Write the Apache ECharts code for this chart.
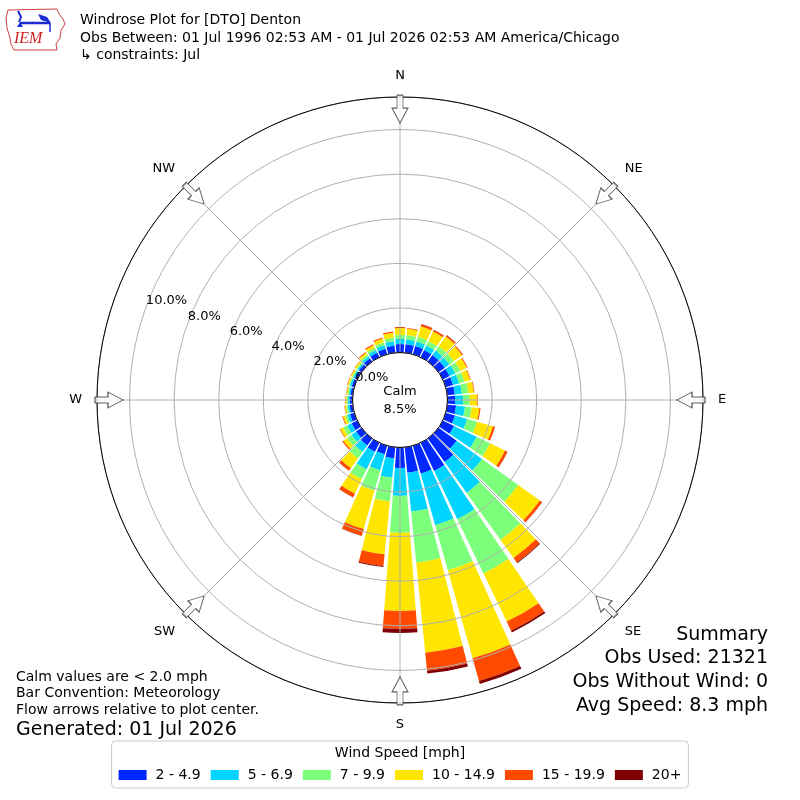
<!DOCTYPE html>
<html><head><meta charset="utf-8">
<script src="https://cdn.jsdelivr.net/npm/echarts@6/dist/echarts.min.js"></script>
<style>html,body{margin:0;padding:0;background:#fff}#c{width:800px;height:800px}</style>
</head><body><div id="c"></div>
<script>
// ---- data (percent of observations per direction and speed bin) ----
const directions = [0,10,20,30,40,50,60,70,80,90,100,110,120,130,140,150,160,170,180,190,200,210,220,230,240,250,260,270,280,290,300,310,320,330,340,350];
const speedBins = ['2 - 4.9','5 - 6.9','7 - 9.9','10 - 14.9','15 - 19.9','20+'];
const s2to5   = [0.38,0.38,0.38,0.36,0.36,0.35,0.34,0.34,0.34,0.34,0.40,0.43,0.56,1.00,1.30,1.40,1.30,1.15,0.92,0.50,0.40,0.45,0.38,0.30,0.28,0.20,0.14,0.12,0.10,0.12,0.12,0.14,0.18,0.22,0.26,0.32];
const s5to7   = [0.23,0.22,0.22,0.22,0.24,0.25,0.28,0.28,0.32,0.36,0.40,0.57,1.12,1.40,1.70,2.40,2.40,1.75,1.25,0.87,0.74,0.87,0.36,0.25,0.22,0.12,0.08,0.08,0.07,0.08,0.08,0.08,0.11,0.14,0.16,0.20];
const s7to10  = [0.18,0.20,0.22,0.22,0.24,0.25,0.26,0.26,0.29,0.30,0.30,0.46,0.67,2.00,2.60,2.70,2.10,2.30,1.66,1.07,0.95,0.50,0.36,0.25,0.20,0.10,0.08,0.07,0.06,0.06,0.06,0.07,0.09,0.11,0.13,0.15];
const s10to15 = [0.31,0.28,0.48,0.48,0.54,0.45,0.32,0.26,0.25,0.33,0.35,0.74,0.75,1.20,1.00,2.40,4.10,4.06,3.50,2.38,1.79,0.71,0.54,0.20,0.15,0.11,0.06,0.05,0.05,0.06,0.06,0.07,0.10,0.13,0.18,0.23];
const s15to20 = [0.04,0.04,0.10,0.08,0.07,0.06,0.04,0.03,0.03,0.03,0.05,0.10,0.12,0.12,0.24,0.45,1.06,0.81,0.81,0.54,0.31,0.18,0.13,0.06,0.03,0.03,0.02,0.02,0.02,0.02,0.02,0.02,0.04,0.05,0.05,0.06];
const s20plus = [0,0,0.01,0.01,0.01,0,0,0,0,0,0,0,0.01,0.01,0.04,0.09,0.14,0.13,0.18,0.04,0.02,0.01,0.01,0,0,0,0,0,0,0,0,0,0,0,0,0];
const binValues = [s2to5, s5to7, s7to10, s10to15, s15to20, s20plus];
const compassLabels = ['N','NE','E','SE','S','SW','W','NW'];
const compassAngles = [0,45,90,135,180,225,270,315];
const calmPct = 8.5;
const titleLines = ['Windrose Plot for [DTO] Denton','Obs Between: 01 Jul 1996 02:53 AM - 01 Jul 2026 02:53 AM America/Chicago','\u21b3 constraints: Jul'];
const summaryLines = ['Summary','Obs Used: 21321','Obs Without Wind: 0','Avg Speed: 8.3 mph'];
const noteLines = ['Calm values are < 2.0 mph','Bar Convention: Meteorology','Flow arrows relative to plot center.'];
const generatedText = 'Generated: 01 Jul 2026';

// ---- styles / layout ----
const binColors = ['#0028ff','#00d4ff','#7cff7a','#ffe600','#ff4a00','#7f0000'];
const FONT = 'DejaVu Sans';
const R_MAX = 11.46;
const RADIUS = [47.5, 303];
const CENTER = ['50%','50%'];
const ARROW_R = 10.92;
const ARROW = 'path://M5,0 L11,0 L11,13 L16,13 L8,28 L0,13 L5,13 Z';
const compassMap = {};
compassAngles.forEach((a,i)=>{compassMap[a]=compassLabels[i];});

const chart = echarts.init(document.getElementById('c'), null, {renderer:'canvas'});
const option = {
  animation:false,
  backgroundColor:'#fff',
  polar:[
    {center:CENTER, radius:RADIUS},
    {center:CENTER, radius:RADIUS},
    {center:CENTER, radius:RADIUS}
  ],
  angleAxis:[
    {polarIndex:0, type:'category', data:directions, startAngle:95, clockwise:true, show:false},
    {polarIndex:1, type:'value', min:0, max:360, interval:45, startAngle:90, clockwise:true, z:4,
      axisLine:{lineStyle:{color:'#000', width:1}}, axisTick:{show:false},
      axisLabel:{margin:15, align:'center', verticalAlign:'middle', color:'#000', fontSize:13, fontFamily:FONT,
        formatter:v=>(v<360 && compassMap[v]) ? compassMap[v] : ''},
      splitLine:{lineStyle:{color:'#b0b0b0', width:1}}},
    {polarIndex:2, type:'value', min:0, max:360, startAngle:160, clockwise:true, show:false}
  ],
  radiusAxis:[
    {polarIndex:0, type:'value', min:0, max:R_MAX, show:false},
    {polarIndex:1, type:'value', min:0, max:R_MAX, interval:2, z:3,
      axisLine:{show:false}, axisTick:{show:false}, axisLabel:{show:false},
      splitLine:{lineStyle:{color:'#b0b0b0', width:1}}},
    {polarIndex:2, type:'value', min:0, max:R_MAX, interval:2, z:5,
      axisLine:{show:false}, axisTick:{show:false}, splitLine:{show:false},
      axisLabel:{margin:0, align:'left', verticalAlign:'bottom', color:'#000', fontSize:13, fontFamily:FONT,
        formatter:v=> v>10.01 ? '' : v.toFixed(1)+'%'}}
  ],
  legend:{
    data:speedBins, left:'center', top:741, orient:'horizontal', icon:'rect',
    itemWidth:28, itemHeight:10, itemGap:10, selectedMode:false,
    padding:[27,7,6,7], borderColor:'#cccccc', borderWidth:1, borderRadius:4, backgroundColor:'#fff',
    textStyle:{fontSize:14, fontFamily:FONT, color:'#000', padding:[0,0,0,4]}
  },
  series: speedBins.map((name,i)=>({
    type:'bar', name, coordinateSystem:'polar', polarIndex:0, stack:'wind',
    data:binValues[i], itemStyle:{color:binColors[i]}, barCategoryGap:'14%', z:2, silent:true
  })).concat([{
    type:'scatter', coordinateSystem:'polar', polarIndex:1, silent:true, z:8,
    data: compassAngles.map(a=>[ARROW_R, a]),
    symbol:ARROW, symbolSize:[16,28], symbolRotate:v=>-v[1],
    itemStyle:{color:'#fff', borderColor:'#333', borderWidth:1}
  }]),
  graphic:[
    {type:'text', x:400, y:401, z:20, style:{text:'Calm\n'+calmPct.toFixed(1)+'%', align:'center', verticalAlign:'middle', font:'13px '+FONT, lineHeight:18, fill:'#000'}},
    {type:'text', x:80, y:12, style:{text:titleLines.join('\n'), font:'14px '+FONT, lineHeight:17.5, fill:'#000', verticalAlign:'top'}},
    {type:'text', x:768, y:623, style:{text:summaryLines.join('\n'), font:'19px '+FONT, lineHeight:23.7, align:'right', verticalAlign:'top', fill:'#000'}},
    {type:'text', x:16, y:669, style:{text:noteLines.join('\n'), font:'14px '+FONT, lineHeight:16.5, verticalAlign:'top', fill:'#000'}},
    {type:'text', x:16, y:730, style:{text:generatedText, font:'19px '+FONT, verticalAlign:'middle', fill:'#000'}},
    {type:'text', x:400, y:753, z:50, style:{text:'Wind Speed [mph]', font:'14px '+FONT, align:'center', verticalAlign:'middle', fill:'#000'}},
    // IEM logo (decoration)
    {type:'polygon', shape:{points:[[8,10],[57,9],[59,14],[63,19],[65,24],[61,30],[60,38],[56,44],[57,50],[14,50],[11,44],[10,38],[7,28],[6,18]]}, style:{fill:'none', stroke:'#d04040', lineWidth:1}},
    {type:'polyline', shape:{points:[[18,11],[21,17],[19,22]]}, style:{fill:'none', stroke:'#1a2bd0', lineWidth:2}},
    {type:'line', shape:{x1:20, y1:23, x2:50, y2:23}, style:{stroke:'#1a2bd0', lineWidth:2.5}},
    {type:'polygon', shape:{points:[[38,14],[47,17],[51,23],[41,20]]}, style:{fill:'#1a2bd0'}},
    {type:'line', shape:{x1:50, y1:23, x2:50, y2:32}, style:{stroke:'#1a2bd0', lineWidth:1.5}},
    {type:'polygon', shape:{points:[[17,27],[20,22],[23,27]]}, style:{fill:'#1a2bd0'}},
    {type:'text', x:14, y:31, style:{text:'IEM', font:'italic 16px "Liberation Serif"', fill:'#cc2222', verticalAlign:'top'}}
  ]
};
chart.setOption(option);
</script>
</body></html>
